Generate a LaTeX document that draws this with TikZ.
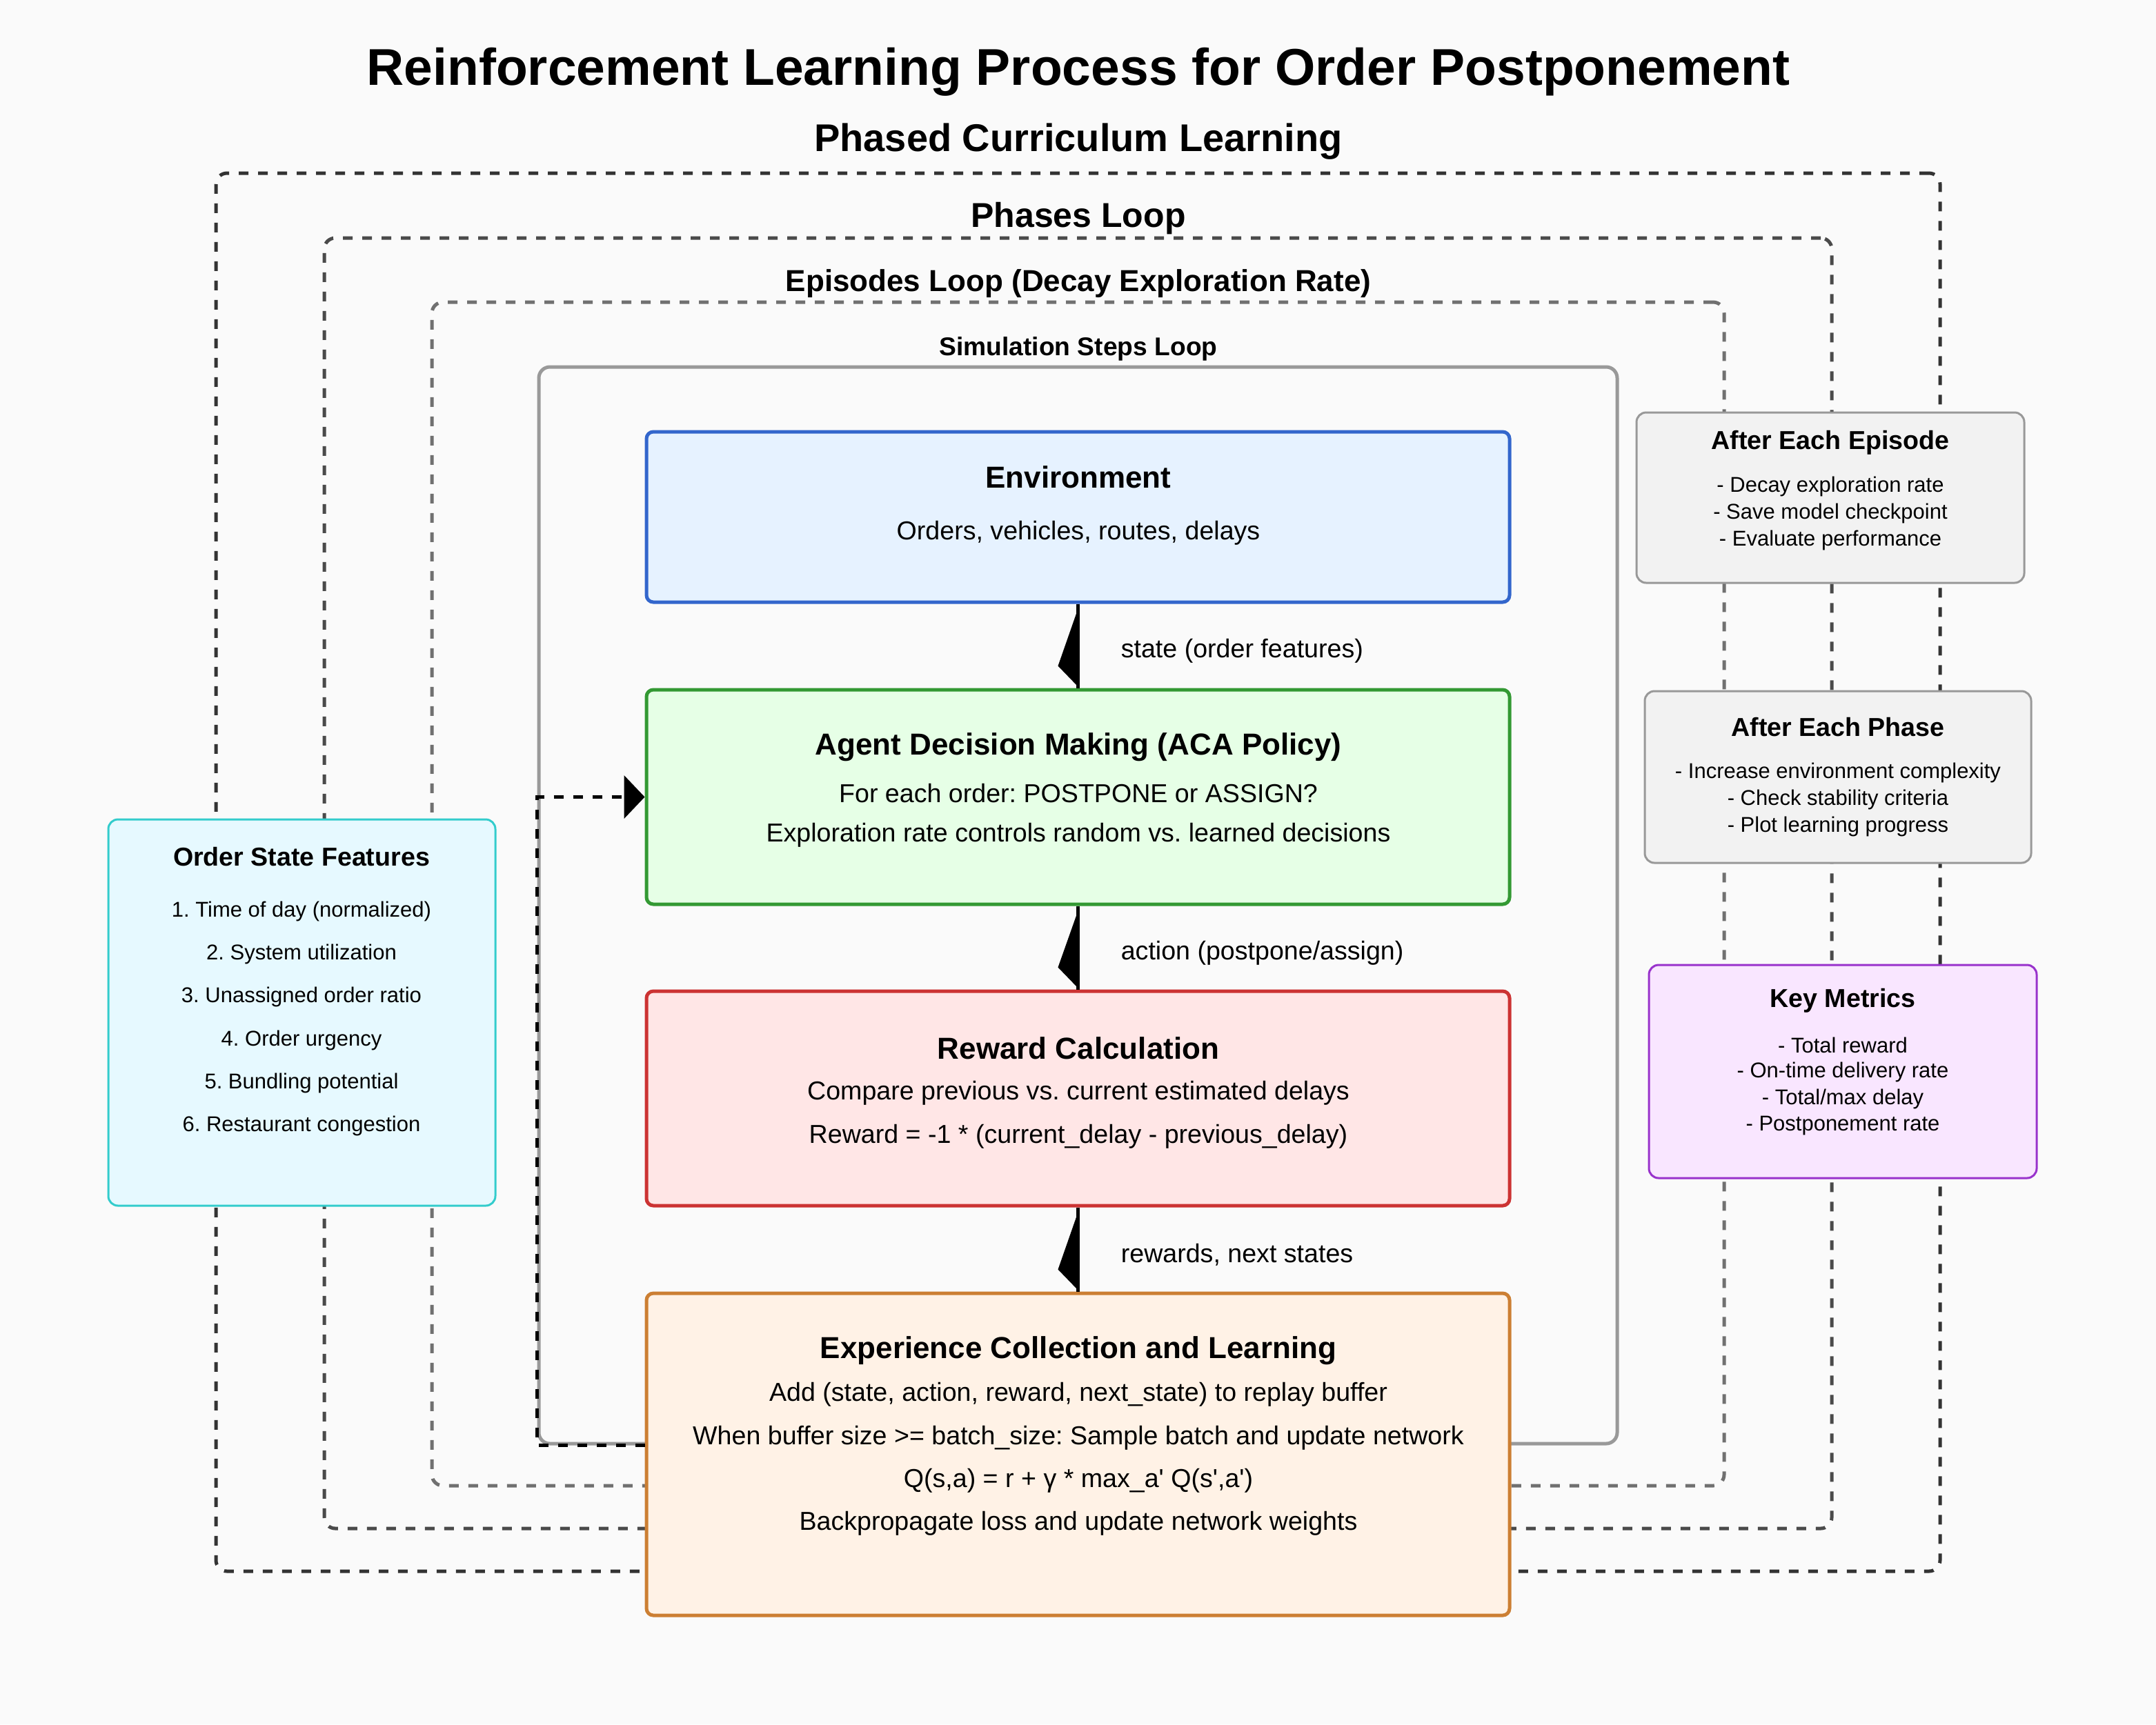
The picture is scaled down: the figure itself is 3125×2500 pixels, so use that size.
\documentclass[tikz,border=0pt]{standalone}
\usepackage{fontspec}
\setmainfont{Liberation Sans}
\usetikzlibrary{arrows.meta,calc}
\definecolor{bgc}{HTML}{FAFAFA}
\definecolor{envb}{HTML}{3366CC}\definecolor{envf}{HTML}{E6F2FF}
\definecolor{agb}{HTML}{339933}\definecolor{agf}{HTML}{E6FFE6}
\definecolor{rwb}{HTML}{CC3333}\definecolor{rwf}{HTML}{FFE6E6}
\definecolor{exb}{HTML}{CC7F33}\definecolor{exf}{HTML}{FFF2E6}
\definecolor{osb}{HTML}{33CCCC}\definecolor{osf}{HTML}{E6F9FF}
\definecolor{kmb}{HTML}{9933CC}\definecolor{kmf}{HTML}{F9E6FF}
\definecolor{sib}{HTML}{999999}\definecolor{sif}{HTML}{F2F2F2}
\definecolor{l1}{HTML}{333333}\definecolor{l2}{HTML}{4A4A4A}\definecolor{l3}{HTML}{707070}
\definecolor{simc}{HTML}{999999}
\frenchspacing
\begin{document}
\begin{tikzpicture}[x=0.25pt,y=-0.25pt,
  loopbox/.style={draw, line width=1.25pt, dash pattern=on 3.5pt off 3.5pt, rounded corners=4pt, inner sep=0pt},
  simloop/.style={draw=simc, line width=1.25pt, rounded corners=4pt, inner sep=0pt},
  mainbox/.style={draw, line width=1.25pt, rounded corners=2.5pt, inner sep=0pt, minimum width=312.75pt},
  sidebox/.style={draw, line width=0.75pt, rounded corners=3.5pt, inner sep=0pt},
  txt/.style={inner sep=0pt, align=center, yshift=-1pt},
  ttl/.style={txt, font=\bfseries\fontsize{11}{13}\selectfont},
  body/.style={txt, font=\fontsize{9.4}{11}\selectfont},
  stitle/.style={txt, font=\bfseries\fontsize{9.4}{11}\selectfont},
  sbody/.style={txt, font=\fontsize{7.75}{9}\selectfont},
  conn/.style={line width=1.25pt, black},
  fb/.style={line width=1.25pt, black, dash pattern=on 3.5pt off 3.5pt, -{Triangle[length=7.5pt,width=15.5pt]}},
  lab/.style={inner sep=0pt, anchor=west, yshift=-1pt, font=\fontsize{9.4}{11}\selectfont}
]
\useasboundingbox (0,0) rectangle (3125,2500);
\fill[bgc] (0,0) rectangle (3125,2500);

% titles
\node[txt, font=\bfseries\fontsize{18.75}{22}\selectfont] (title) at (1563,100) {Reinforcement Learning Process for Order Postponement};
\node[txt, font=\bfseries\fontsize{14}{16}\selectfont] (phasedlab) at (1563,201) {Phased Curriculum Learning};

% loop boxes
\node[loopbox, draw=l1, minimum width=624.75pt, minimum height=506.75pt] (outer) at (1562.5,1264.5) {};
\node[txt, font=\bfseries\fontsize{12.5}{15}\selectfont] (phaseslab) at (1563,313) {Phases Loop};
\node[loopbox, draw=l2, minimum width=546.25pt, minimum height=467.75pt] (phases) at (1562.5,1280.5) {};
\node[txt, font=\bfseries\fontsize{11}{13}\selectfont] (epilab) at (1563,407) {Episodes Loop (Decay Exploration Rate)};
\node[loopbox, draw=l3, minimum width=468.25pt, minimum height=429pt] (episodes) at (1562.5,1296) {};
\node[txt, font=\bfseries\fontsize{9.3}{11}\selectfont] (simlab) at (1563,502) {Simulation Steps Loop};
\node[simloop, minimum width=390.75pt, minimum height=390.25pt] (simbox) at (1562.5,1312.5) {};

% side boxes
\node[sidebox, draw=sib, fill=sif, minimum width=140.5pt, minimum height=61.75pt] (aee) at (2653,721.5) {};
\node[stitle] (aeet) at (2653,638) {After Each Episode};
\node[sbody] (aee1) at (2653,701) {- Decay exploration rate};
\node[sbody] (aee2) at (2653,740) {- Save model checkpoint};
\node[sbody] (aee3) at (2653,779) {- Evaluate performance};

\node[sidebox, draw=sib, fill=sif, minimum width=140pt, minimum height=62.25pt] (aep) at (2664,1126.5) {};
\node[stitle] (aept) at (2664,1050) {After Each Phase};
\node[sbody] (aep1) at (2664,1116) {- Increase environment complexity};
\node[sbody] (aep2) at (2664,1155) {- Check stability criteria};
\node[sbody] (aep3) at (2664,1194) {- Plot learning progress};

\node[sidebox, draw=kmb, fill=kmf, minimum width=140.5pt, minimum height=77.25pt] (km) at (2671,1553.5) {};
\node[stitle] (kmt) at (2671,1447) {Key Metrics};
\node[sbody] (km1) at (2671,1511) {- Total reward};
\node[sbody] (km2) at (2671,1550) {- On-time delivery rate};
\node[sbody] (km3) at (2671,1589) {- Total/max delay};
\node[sbody] (km4) at (2671,1628) {- Postponement rate};

\node[sidebox, draw=osb, fill=osf, minimum width=140.25pt, minimum height=140pt] (os) at (437.5,1468) {};
\node[stitle] (ost) at (437,1238) {Order State Features};
\node[sbody] (os1) at (437,1317) {1. Time of day (normalized)};
\node[sbody] (os2) at (437,1379) {2. System utilization};
\node[sbody] (os3) at (437,1441) {3. Unassigned order ratio};
\node[sbody] (os4) at (437,1504) {4. Order urgency};
\node[sbody] (os5) at (437,1566) {5. Bundling potential};
\node[sbody] (os6) at (437,1628) {6. Restaurant congestion};

% main boxes
\node[mainbox, draw=envb, fill=envf, minimum height=61.75pt] (env) at (1562.5,749.5) {};
\node[ttl] (envt) at (1563,688) {Environment};
\node[body] (env1) at (1563,769) {Orders, vehicles, routes, delays};

\node[mainbox, draw=agb, fill=agf, minimum height=77.75pt] (agent) at (1562.5,1155.5) {};
\node[ttl] (agt) at (1563,1079) {Agent Decision Making (ACA Policy)};
\node[body] (ag1) at (1563,1146) {For each order: POSTPONE or ASSIGN?};
\node[body] (ag2) at (1563,1207) {Exploration rate controls random vs. learned decisions};

\node[mainbox, draw=rwb, fill=rwf, minimum height=77.75pt] (rew) at (1562.5,1592.5) {};
\node[ttl] (rwt) at (1563,1516) {Reward Calculation};
\node[body] (rw1) at (1563,1581) {Compare previous vs. current estimated delays};
\node[body] (rw2) at (1563,1644) {Reward = -1 * (current\_delay - previous\_delay)};

\node[mainbox, draw=exb, fill=exf, minimum height=116.75pt] (exp) at (1562.5,2108.5) {};
\node[ttl] (ext) at (1563,1954) {Experience Collection and Learning};
\node[body] (ex1) at (1563,2018) {Add (state, action, reward, next\_state) to replay buffer};
\node[body] (ex2) at (1563,2081) {When buffer size >= batch\_size: Sample batch and update network};
\node[body] (ex3) at (1563,2143) {Q(s,a) = r + γ * max\_a\textquotesingle{} Q(s\textquotesingle,a\textquotesingle)};
\node[body] (ex4) at (1563,2205) {Backpropagate loss and update network weights};

% connectors
\draw[conn] (env.south) -- (agent.north);
\fill ($(agent.north)+(0,-2)$) -- ($(agent.north)+(-29,-32)$) -- ($(env.south)+(0,7)$) -- cycle;
\node[lab] (l1) at (1624,940) {state (order features)};

\draw[conn] (agent.south) -- (rew.north);
\fill ($(rew.north)+(0,-2)$) -- ($(rew.north)+(-29,-32)$) -- ($(agent.south)+(0,7)$) -- cycle;
\node[lab] (l2) at (1624,1378) {action (postpone/assign)};

\draw[conn] (rew.south) -- (exp.north);
\fill ($(exp.north)+(0,-2)$) -- ($(exp.north)+(-29,-32)$) -- ($(rew.south)+(0,7)$) -- cycle;
\node[lab] (l3) at (1624,1815) {rewards, next states};

\draw[fb] (exp.west |- simbox.south) -- (simbox.south west) |- (agent.west);
\end{tikzpicture}
\end{document}
